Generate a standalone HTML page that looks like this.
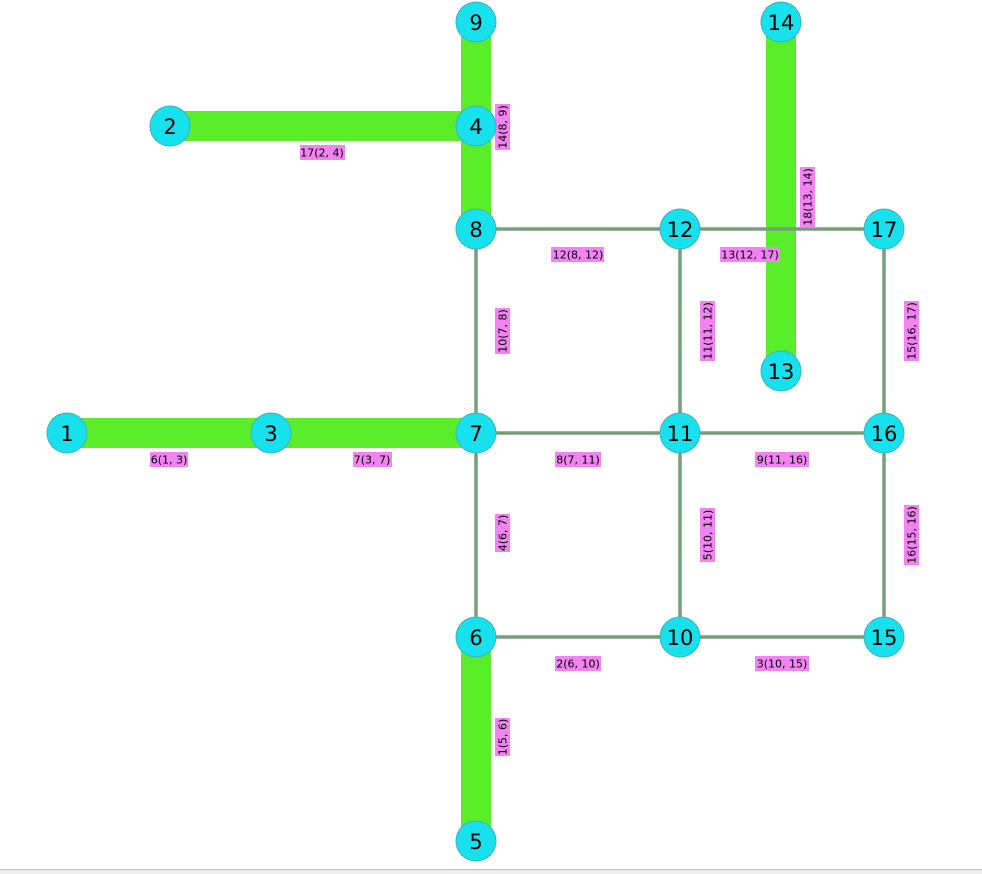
<!DOCTYPE html>
<html><head><meta charset="utf-8"><style>
html,body{margin:0;padding:0;background:#fff;width:982px;height:874px;overflow:hidden}
svg{display:block}
text{font-family:"DejaVu Sans","Liberation Sans",sans-serif}
.n{font-size:21px;fill:#000;text-anchor:middle;dominant-baseline:central}
.l{font-size:11px;fill:#000;text-anchor:middle;dominant-baseline:central}
</style></head><body>
<svg width="982" height="874" viewBox="0 0 982 874" xmlns="http://www.w3.org/2000/svg">
<rect x="0" y="870" width="982" height="4" fill="#eeeeee"/>
<line x1="0" y1="869.5" x2="982" y2="869.5" stroke="#bbb" stroke-width="1"/>
<g stroke="#5aee2a" stroke-width="30" stroke-linecap="square">
<line x1="67" y1="433" x2="476" y2="433"/>
<line x1="170" y1="126" x2="476" y2="126"/>
<line x1="476" y1="22" x2="476" y2="229"/>
<line x1="476" y1="637" x2="476" y2="841"/>
<line x1="781" y1="22" x2="781" y2="371"/>
</g>
<g stroke="#789e78" stroke-width="3.5">
<line x1="476" y1="229" x2="884" y2="229"/>
<line x1="476" y1="433" x2="884" y2="433"/>
<line x1="476" y1="637" x2="884" y2="637"/>
<line x1="476" y1="229" x2="476" y2="637"/>
<line x1="680" y1="229" x2="680" y2="637"/>
<line x1="884" y1="229" x2="884" y2="637"/>
</g>
<g fill="#f283f2">
<rect x="300" y="145" width="45" height="15"/>
<rect x="150" y="452" width="38" height="15"/>
<rect x="353" y="452" width="39" height="15"/>
<rect x="551" y="247" width="53" height="15"/>
<rect x="720" y="247" width="60" height="15"/>
<rect x="555" y="452" width="46" height="15"/>
<rect x="755" y="452" width="54" height="15"/>
<rect x="555" y="656" width="46" height="15"/>
<rect x="755" y="656" width="54" height="15"/>
<rect x="495" y="104" width="15" height="46"/>
<rect x="800" y="167" width="15" height="60"/>
<rect x="495" y="308" width="15" height="46"/>
<rect x="700" y="301" width="15" height="60"/>
<rect x="904" y="301" width="15" height="60"/>
<rect x="495" y="514" width="15" height="38"/>
<rect x="700" y="508" width="15" height="54"/>
<rect x="904" y="505" width="15" height="60"/>
<rect x="495" y="718" width="15" height="38"/>
</g>
<g>
<text class="l" x="322" y="153">17(2, 4)</text>
<text class="l" x="169" y="460">6(1, 3)</text>
<text class="l" x="372" y="460">7(3, 7)</text>
<text class="l" x="578" y="255">12(8, 12)</text>
<text class="l" x="750" y="255">13(12, 17)</text>
<text class="l" x="578" y="460">8(7, 11)</text>
<text class="l" x="782" y="460">9(11, 16)</text>
<text class="l" x="578" y="664">2(6, 10)</text>
<text class="l" x="782" y="664">3(10, 15)</text>
<text class="l" transform="translate(503,127) rotate(-90)">14(8, 9)</text>
<text class="l" transform="translate(808,197) rotate(-90)">18(13, 14)</text>
<text class="l" transform="translate(503,331) rotate(-90)">10(7, 8)</text>
<text class="l" transform="translate(708,331) rotate(-90)">11(11, 12)</text>
<text class="l" transform="translate(912,331) rotate(-90)">15(16, 17)</text>
<text class="l" transform="translate(503,533) rotate(-90)">4(6, 7)</text>
<text class="l" transform="translate(708,535) rotate(-90)">5(10, 11)</text>
<text class="l" transform="translate(912,535) rotate(-90)">16(15, 16)</text>
<text class="l" transform="translate(503,737) rotate(-90)">1(5, 6)</text>
</g>
<g fill="#17e1ec" stroke="#3fb0c0" stroke-width="1">
<circle cx="476" cy="22" r="20"/><circle cx="781" cy="22" r="20"/>
<circle cx="170" cy="126" r="20"/><circle cx="476" cy="126" r="20"/>
<circle cx="476" cy="229" r="20"/><circle cx="680" cy="229" r="20"/><circle cx="884" cy="229" r="20"/>
<circle cx="781" cy="371" r="20"/>
<circle cx="67" cy="433" r="20"/><circle cx="271" cy="433" r="20"/><circle cx="476" cy="433" r="20"/><circle cx="680" cy="433" r="20"/><circle cx="884" cy="433" r="20"/>
<circle cx="476" cy="637" r="20"/><circle cx="680" cy="637" r="20"/><circle cx="884" cy="637" r="20"/>
<circle cx="476" cy="841" r="20"/>
</g>
<g>
<text class="n" x="476" y="23">9</text><text class="n" x="781" y="23">14</text>
<text class="n" x="170" y="127">2</text><text class="n" x="476" y="127">4</text>
<text class="n" x="476" y="230">8</text><text class="n" x="680" y="230">12</text><text class="n" x="884" y="230">17</text>
<text class="n" x="781" y="372">13</text>
<text class="n" x="67" y="434">1</text><text class="n" x="271" y="434">3</text><text class="n" x="476" y="434">7</text><text class="n" x="680" y="434">11</text><text class="n" x="884" y="434">16</text>
<text class="n" x="476" y="638">6</text><text class="n" x="680" y="638">10</text><text class="n" x="884" y="638">15</text>
<text class="n" x="476" y="842">5</text>
</g>
</svg>
</body></html>
